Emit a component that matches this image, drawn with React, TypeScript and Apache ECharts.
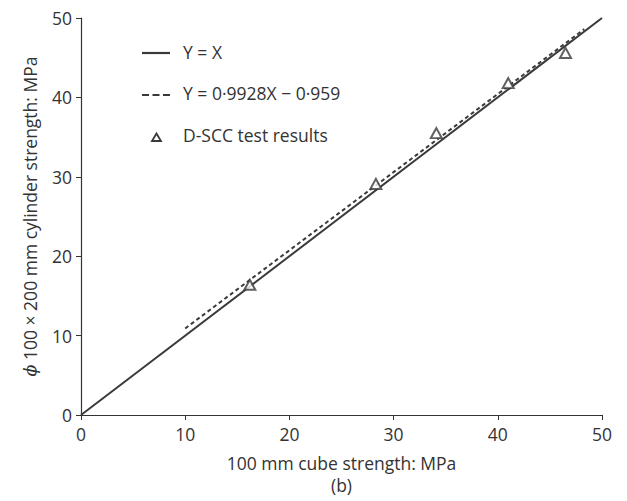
import React, { useEffect, useRef } from "react";
import * as echarts from "echarts";

const identityLine: [number, number][] = [
  [0, 0],
  [50, 50],
];
const fitLine: [number, number][] = [
  [10, 10.9],
  [48.3, 48.6],
];
const testResults: [number, number][] = [
  [16.2, 16.4],
  [28.3, 29.1],
  [34.1, 35.5],
  [41.0, 41.8],
  [46.5, 45.6],
];
const xTicks = [0, 10, 20, 30, 40, 50];
const yTicks = [0, 10, 20, 30, 40, 50];
const legendNames = ["Y = X", "Y = 0·9928X − 0·959", "D-SCC test results"];

const FONT = "'Open Sans', 'Noto Sans', sans-serif";
const INK = "#333333";
const LINE = "#3a3a3a";
const FS = 17.5;

export default function App() {
  const ref = useRef<HTMLDivElement>(null);
  useEffect(() => {
    if (!ref.current) return;
    const chart = echarts.init(ref.current, undefined, { renderer: "svg" });
    const legendText = (name: string, y: number) => ({
      type: "text",
      left: 183,
      top: y - 12,
      style: { text: name, fontSize: FS, fill: INK, fontFamily: FONT },
    });
    chart.setOption({
      animation: false,
      backgroundColor: "#ffffff",
      textStyle: { fontFamily: FONT },
      grid: { left: 81, right: 25, top: 18, bottom: 86, containLabel: false },
      graphic: [
        {
          type: "line",
          shape: { x1: 142, y1: 53, x2: 170, y2: 53 },
          style: { stroke: LINE, lineWidth: 2.2 },
        },
        legendText(legendNames[0], 55),
        {
          type: "line",
          shape: { x1: 142, y1: 95, x2: 170, y2: 95 },
          style: { stroke: LINE, lineWidth: 2.2, lineDash: [7, 3.5] },
        },
        legendText(legendNames[1], 96),
        {
          type: "polygon",
          shape: { points: [[156.5, 133.5], [152, 141], [161, 141]] },
          style: { fill: "#ffffff", stroke: LINE, lineWidth: 1.8 },
        },
        legendText(legendNames[2], 138),
      ],
      xAxis: {
        type: "value",
        min: xTicks[0],
        max: xTicks[xTicks.length - 1],
        interval: 10,
        name: "100 mm cube strength: MPa\n(b)",
        nameLocation: "middle",
        nameGap: 37,
        nameTextStyle: { fontSize: FS, color: INK, fontFamily: FONT, lineHeight: 22, verticalAlign: "top" },
        axisLine: { lineStyle: { color: INK, width: 1.2 } },
        axisTick: { show: true, length: 5, inside: false, lineStyle: { color: INK } },
        axisLabel: { fontSize: FS, color: INK, margin: 10, fontFamily: FONT },
        splitLine: { show: false },
      },
      yAxis: {
        type: "value",
        min: yTicks[0],
        max: yTicks[yTicks.length - 1],
        interval: 10,
        name: "{i|ϕ} 100 × 200 mm cylinder strength: MPa",
        nameLocation: "middle",
        nameGap: 42,
        nameRotate: 90,
        nameTextStyle: {
          fontSize: FS,
          color: INK,
          fontFamily: FONT,
          rich: {
            i: { fontStyle: "italic", fontSize: FS, color: INK, fontFamily: "'DejaVu Serif', serif" },
          },
        },
        axisLine: { show: true, lineStyle: { color: INK, width: 1.2 } },
        axisTick: { show: true, length: 5, inside: false, lineStyle: { color: INK } },
        axisLabel: { fontSize: FS, color: INK, margin: 9, fontFamily: FONT },
        splitLine: { show: false },
      },
      series: [
        {
          name: legendNames[0],
          type: "line",
          data: identityLine,
          symbol: "none",
          lineStyle: { color: LINE, width: 2 },
          z: 2,
        },
        {
          name: legendNames[1],
          type: "line",
          data: fitLine,
          symbol: "none",
          lineStyle: { color: LINE, width: 2, type: [4, 3] },
          z: 2,
        },
        {
          name: legendNames[2],
          type: "scatter",
          data: testResults,
          symbol: "triangle",
          symbolSize: [11, 10],
          itemStyle: { color: "#ffffff", borderColor: LINE, borderWidth: 2 },
          z: 3,
        },
      ],
    });
    return () => chart.dispose();
  }, []);
  return <div ref={ref} style={{ width: 627, height: 501, position: "absolute", left: 0, top: 0 }} />;
}
